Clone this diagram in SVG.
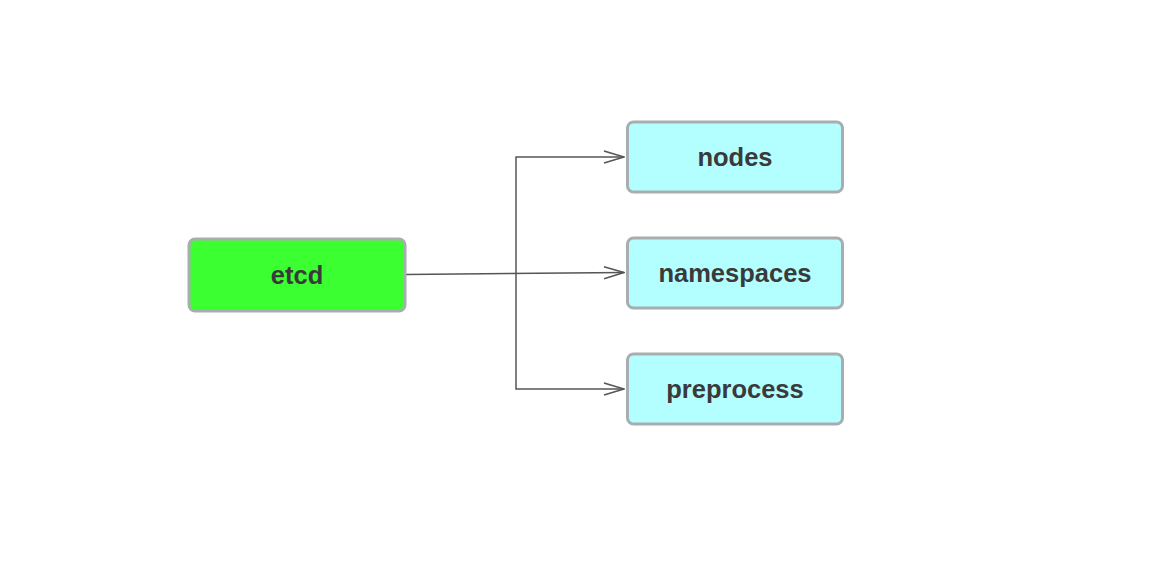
<svg xmlns="http://www.w3.org/2000/svg" width="1152" height="570" viewBox="0 0 1152 570">
<defs>
<style>
.box{stroke:#a8adb0;stroke-width:3}
.green{fill:#3bff31}
.cyan{fill:#b3ffff}
.lbl{font-family:"Liberation Sans",Arial,sans-serif;font-weight:bold;font-size:25.5px;fill:#3a3a3a;text-anchor:middle}
.conn{fill:none;stroke:#555;stroke-width:1.5}
</style>
<marker id="arr" viewBox="0 0 22 14" refX="21" refY="7" markerWidth="22" markerHeight="14" markerUnits="userSpaceOnUse" orient="auto">
<path d="M1,1 L21,7 L1,13" fill="none" stroke="#555" stroke-width="1.5"/>
</marker>
</defs>
<rect width="1152" height="570" fill="#fff"/>
<g id="connectors">
<path class="conn" d="M405,274.5 L624,272.5" marker-end="url(#arr)"/>
<path class="conn" d="M516,274 L516,157 L624,157" marker-end="url(#arr)"/>
<path class="conn" d="M516,274 L516,389 L624,389" marker-end="url(#arr)"/>
</g>
<g id="etcd">
<rect class="box green" x="189" y="239" width="216" height="72" rx="6"/>
<text class="lbl" x="297" y="284">etcd</text>
</g>
<g id="nodes">
<rect class="box cyan" x="627.5" y="122" width="215" height="70" rx="6"/>
<text class="lbl" x="735" y="166">nodes</text>
</g>
<g id="namespaces">
<rect class="box cyan" x="627.5" y="238" width="215" height="70" rx="6"/>
<text class="lbl" x="735" y="282">namespaces</text>
</g>
<g id="preprocess">
<rect class="box cyan" x="627.5" y="354" width="215" height="70" rx="6"/>
<text class="lbl" x="735" y="398">preprocess</text>
</g>
</svg>
